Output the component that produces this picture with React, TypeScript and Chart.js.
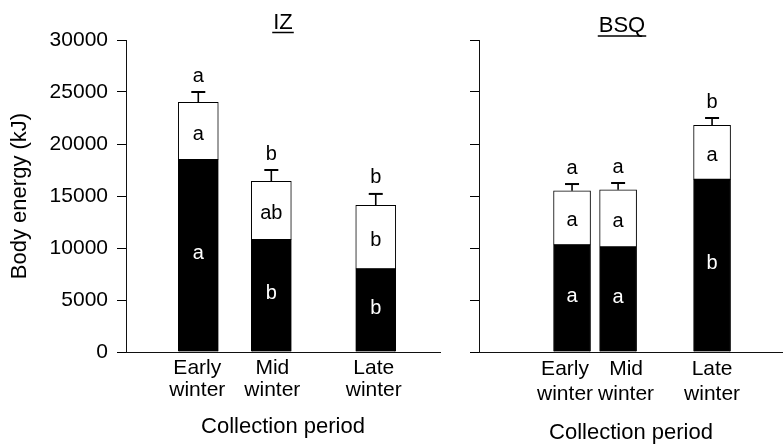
import React, { useEffect, useRef } from "react";
import { Chart, registerables } from "chart.js";

Chart.register(...registerables);

const FONT = "'Liberation Sans', Arial, Helvetica, sans-serif";

// ---- data ----
const periods = [
  ["Early", "winter"],
  ["Mid", "winter"],
  ["Late", "winter"],
];
const yTickValues = [0, 5000, 10000, 15000, 20000, 25000, 30000];

// IZ panel (kJ)
const izLower = [18500, 10800, 8000];
const izUpper = [5500, 5600, 6100];
const izError = [1000, 1100, 1100];
const izSigTotal = ["a", "b", "b"];
const izSigUpper = ["a", "ab", "b"];
const izSigLower = ["a", "b", "b"];

// BSQ panel (kJ)
const bsqLower = [10300, 10100, 16600];
const bsqUpper = [5200, 5500, 5200];
const bsqError = [650, 650, 700];
const bsqSigTotal = ["a", "a", "b"];
const bsqSigUpper = ["a", "a", "a"];
const bsqSigLower = ["a", "a", "b"];

// ---- layout (positions / sizes) ----
const panels = [
  {
    title: "IZ",
    lower: izLower,
    upper: izUpper,
    error: izError,
    sigTotal: izSigTotal,
    sigUpper: izSigUpper,
    sigLower: izSigLower,
    canvasLeft: 0,
    canvasWidth: 445,
    axisWidth: 126,
    padRight: 5,
    slots: [0.99, 1.99, 3.42],
    xMax: 4.3,
    labelShiftPx: [-1, 1, -2],
    barThickness: 40,
    tickLineHeight: 1.05,
    showY: true,
    xTitlePad: 7,
    titleShiftPx: 0,
    titleBaseline: 29,
    underlineY: 32.5,
  },
  {
    title: "BSQ",
    lower: bsqLower,
    upper: bsqUpper,
    error: bsqError,
    sigTotal: bsqSigTotal,
    sigUpper: bsqSigUpper,
    sigLower: bsqSigLower,
    canvasLeft: 445,
    canvasWidth: 338,
    axisWidth: 34,
    padRight: 0,
    slots: [2.02, 3.02, 5.06],
    xMax: 6.6,
    labelShiftPx: [-7, 8, 0],
    barThickness: 37,
    tickLineHeight: 1.19,
    showY: false,
    xTitlePad: 1,
    titleShiftPx: -9,
    titleBaseline: 32,
    underlineY: 36,
  },
];

type PanelCfg = (typeof panels)[number];

function annotatePlugin(p: PanelCfg) {
  return {
    id: "annotate",
    afterDatasetsDraw(chart: any) {
      const { ctx, chartArea } = chart;
      const x = chart.scales.x;
      const y = chart.scales.y;
      ctx.save();
      ctx.strokeStyle = "#000";
      ctx.textAlign = "center";
      ctx.textBaseline = "middle";
      ctx.font = `20px ${FONT}`;
      const y0 = y.getPixelForValue(0);
      p.lower.forEach((lo: number, i: number) => {
        const up = p.upper[i];
        const cx = x.getPixelForValue(p.slots[i]);
        const yLo = y.getPixelForValue(lo);
        const yTot = y.getPixelForValue(lo + up);
        const yErr = y.getPixelForValue(lo + up + p.error[i]);
        ctx.lineWidth = 1.6;
        ctx.beginPath();
        ctx.moveTo(cx, yTot);
        ctx.lineTo(cx, yErr);
        ctx.stroke();
        ctx.lineWidth = 2;
        ctx.beginPath();
        ctx.moveTo(cx - 7, yErr);
        ctx.lineTo(cx + 7, yErr);
        ctx.stroke();
        ctx.fillStyle = "#000";
        ctx.fillText(p.sigTotal[i], cx, yErr - 16);
        ctx.fillText(p.sigUpper[i], cx, (yLo + yTot) / 2 + 3);
        ctx.fillStyle = "#fff";
        ctx.fillText(p.sigLower[i], cx, (yLo + y0) / 2 - 2);
      });
      // panel title, underlined
      ctx.fillStyle = "#000";
      ctx.font = `22px ${FONT}`;
      ctx.textBaseline = "alphabetic";
      const tx = (chartArea.left + chartArea.right) / 2 + p.titleShiftPx;
      ctx.fillText(p.title, tx, p.titleBaseline);
      const w = ctx.measureText(p.title).width;
      ctx.lineWidth = 1.5;
      ctx.beginPath();
      ctx.moveTo(tx - w / 2 - 1, p.underlineY);
      ctx.lineTo(tx + w / 2 + 1, p.underlineY);
      ctx.stroke();
      ctx.restore();
    },
  };
}

function Panel({ p }: { p: PanelCfg }) {
  const ref = useRef<HTMLCanvasElement>(null);
  useEffect(() => {
    if (!ref.current) return;
    const unit = (s: any) => (s.max - s.min) / (s.right - s.left || 1);
    const chart = new Chart(ref.current, {
      type: "bar",
      data: {
        datasets: [
          {
            label: "Lower component",
            data: p.slots.map((s, i) => ({ x: s, y: p.lower[i] })),
            backgroundColor: "#000",
            borderColor: "#000",
            borderWidth: 1,
            barThickness: p.barThickness,
          },
          {
            label: "Upper component",
            data: p.slots.map((s, i) => ({ x: s, y: p.upper[i] })),
            backgroundColor: "#fff",
            borderColor: "#000",
            borderWidth: 1,
            borderSkipped: false,
            barThickness: p.barThickness,
          },
        ],
      } as any,
      options: {
        responsive: false,
        animation: false,
        devicePixelRatio: 1,
        events: [],
        layout: { padding: { top: 40, right: p.padRight, left: 0, bottom: 0 } },
        plugins: {
          legend: { display: false },
          tooltip: { enabled: false },
          title: { display: false },
        },
        scales: {
          x: {
            type: "linear",
            stacked: true,
            offset: false,
            bounds: "data",
            grace: 0,
            min: 0,
            max: p.xMax,
            grid: { display: false, drawTicks: false, offset: false },
            border: { display: true, color: "#111", width: 1 },
            afterBuildTicks: (s: any) => {
              const u = unit(s);
              s.ticks = p.slots.map((v, i) => ({ value: v + p.labelShiftPx[i] * u }));
            },
            ticks: {
              callback: (_v: any, i: number) => periods[i],
              font: { family: FONT, size: 21, lineHeight: p.tickLineHeight },
              color: "#000",
              padding: 5,
              maxRotation: 0,
              autoSkip: false,
            },
            title: {
              display: true,
              text: "Collection period",
              color: "#000",
              font: { family: FONT, size: 22, lineHeight: 1 },
              padding: { top: 0, bottom: p.xTitlePad },
            },
            afterFit: (s: any) => {
              s.height = 93;
            },
          },
          y: {
            stacked: true,
            min: 0,
            max: 30000,
            afterBuildTicks: (s: any) => {
              s.ticks = yTickValues.map((v) => ({ value: v }));
            },
            ticks: {
              display: p.showY,
              font: { family: FONT, size: 21 },
              color: "#000",
              padding: 9,
              callback: (v: any) => String(v),
            },
            grid: {
              drawOnChartArea: false,
              drawTicks: true,
              tickLength: 9,
              color: "#000",
              lineWidth: 1,
            },
            border: { display: true, color: "#111", width: 1 },
            title: {
              display: p.showY,
              text: "Body energy (kJ)",
              color: "#000",
              font: { family: FONT, size: 22, lineHeight: 1.2 },
              padding: { top: 7, bottom: 0 },
            },
            afterFit: (s: any) => {
              s.width = p.axisWidth;
            },
          },
        },
      } as any,
      plugins: [annotatePlugin(p)],
    });
    return () => chart.destroy();
  }, []);
  return (
    <canvas
      ref={ref}
      width={p.canvasWidth}
      height={445}
      style={{
        position: "absolute",
        left: p.canvasLeft,
        top: 0,
        width: p.canvasWidth,
        height: 445,
      }}
    />
  );
}

export default function App() {
  return (
    <div
      style={{
        position: "absolute",
        left: 0,
        top: 0,
        width: 783,
        height: 445,
        background: "#fff",
        overflow: "hidden",
      }}
    >
      {panels.map((p) => (
        <Panel key={p.title} p={p} />
      ))}
    </div>
  );
}
